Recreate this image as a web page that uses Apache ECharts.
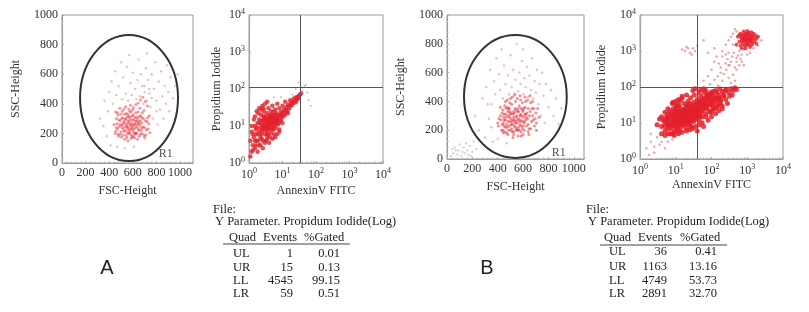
<!DOCTYPE html>
<html>
<head>
<meta charset="utf-8">
<script src="https://cdn.jsdelivr.net/npm/echarts@6/dist/echarts.min.js"></script>
<style>
  html, body { margin: 0; padding: 0; background: #fff; }
  #chart { width: 809px; height: 312px; }
</style>
</head>
<body>
<div id="chart"></div>
<script>
// ---- data ----
// gate R1: [centerX, centerY, radiusX, radiusY] in data units
const gateA = [[568, 439, 415, 426]]
const gateB = [[539, 434, 405, 427]]
const r1A = [[880, 60]]
const r1B = [[880, 45]]

// quadrant markers [x, y]
const quadA = [35, 110]
const quadB = [39, 100]

const fscA_core = [[450,200],[470,230],[480,180],[490,260],[500,210],[505,300],[510,240],[520,190],[525,280],[530,330],[540,220],[545,260],[550,170],[555,310],[560,240],[565,200],[570,280],[575,350],[580,230],[585,190],[590,270],[595,320],[600,250],[605,210],[610,290],[615,170],[620,240],[625,340],[630,260],[635,200],[640,300],[645,230],[650,280],[655,180],[660,250],[665,320],[670,220],[675,270],[680,200],[690,300],[700,240],[710,190],[720,280],[730,230],[740,320],[440,260],[460,300],[470,340],[490,370],[510,350],[530,160],[540,380],[560,150],[580,390],[600,360],[620,200],[640,160],[660,370],[680,340],[700,170],[520,230],[540,300],[560,270],[580,310],[600,180],[610,230],[630,310],[650,220],[570,220],[590,240],[610,260],[550,250],[530,270],[595,290],[625,280],[575,260],[560,330],[500,330],[480,290],[460,240],
  [455,215],[465,265],[475,195],[485,245],[495,285],[505,175],[515,265],[525,215],[535,295],[545,185],[555,235],[565,315],[575,205],[585,255],[595,175],[605,325],[615,265],[625,205],[635,245],[645,345],[655,265],[665,195],[675,305],[685,245],[695,185],[705,285],[715,225],[725,305],[735,265],[745,205],[505,255],[515,305],[535,245],[555,285],[575,295],[595,225],[615,305],[635,285],[655,315],[675,235],[545,335],[565,365],[585,345],[605,375],[625,395],[645,405],[665,425],[685,445],[705,415],[725,385],[495,195],[475,325],[555,205],[615,195],[695,355],[455,345],[585,165],[645,265],[525,365],[665,285]]
const fscA_sparse = [[320,300],[350,250],[360,420],[380,180],[390,350],[400,480],[410,120],[420,550],[430,400],[450,620],[460,460],[470,110],[480,520],[500,680],[510,430],[520,580],[530,100],[540,470],[550,650],[560,420],[570,730],[580,540],[590,460],[600,610],[610,110],[620,500],[630,430],[640,560],[650,700],[660,450],[670,600],[680,520],[690,400],[700,480],[710,640],[720,420],[730,560],[740,470],[750,380],[760,600],[770,300],[780,500],[790,680],[800,420],[810,260],[820,550],[830,360],[840,620],[850,450],[860,300],[870,520],[880,400],[890,660],[900,480],[910,350],[920,580],[940,440],[960,520],[980,600],[720,740],[760,440],[800,350],[700,520],[740,500]]

const annA_core = [[1.2,2],[1.3,3],[1.4,5],[1.5,2.5],[1.6,8],[1.7,4],[1.8,12],[1.9,6],[2,3],[2,15],[2.1,9],[2.2,5],[2.3,20],[2.4,11],[2.5,7],[2.6,4],[2.7,14],[2.8,25],[2.9,9],[3,6],[3,18],[3.1,12],[3.2,4],[3.3,8],[3.4,22],[3.5,15],[3.6,10],[3.7,6],[3.8,30],[3.9,13],[4,9],[4,19],[4.2,5],[4.4,11],[4.5,25],[4.6,16],[4.8,8],[5,13],[5,35],[5.2,20],[5.4,10],[5.6,6],[5.8,17],[6,28],[6,12],[6.3,9],[6.6,22],[7,15],[7,40],[7.3,11],[7.6,19],[8,30],[8,8],[8.5,14],[9,24],[9.5,18],[10,35],[10,12],[11,28],[12,20],[12,45],[13,33],[14,25],[15,38],[16,30],[17,50],[18,40],[20,45],[22,55],[24,48],[26,60],[28,52],[30,65],[33,70],[36,75],[1.1,1.5],[1.3,6],[1.5,10],[1.8,2],[2.2,3],[2.6,2.5],[3,3.5],[3.5,4.5],[4,3.5],[5,4.5],[6,5],[7,6],[8,7],[1.4,15],[1.7,25],[2,30],[2.5,35],[3,40],[3.5,45],[1.2,10],[2.8,11],[3.2,9.5],[3.6,13],[4.1,14],[2.4,8],[2.9,16],[3.4,7],[4.3,17],[4.7,12],[5.3,15],[3.8,10.5],[3.1,14.5],[2.7,10],[4.9,18],[5.5,24],[6.2,16],[6.8,14],
  [1.5,4],[1.6,6],[1.7,9],[1.9,4],[2,7],[2.1,12],[2.3,6],[2.4,14],[2.6,9],[2.7,18],[3,8],[3.2,14],[3.4,10],[3.7,17],[3.9,8],[4.2,12],[4.4,20],[4.7,9],[5,16],[5.4,13],[5.8,11],[6.2,20],[6.6,13],[7.2,17],[7.8,12],[8.4,20],[9,15],[9.8,22],[10.5,18],[11.5,24],[13,28],[14.5,22],[16,34],[19,36],[21,42],[25,44],[27,58],[31,58],[1.3,2.2],[1.6,3],[2.4,4.5],[3.5,5.5],[4.5,6.5],[5.5,8],[1.5,18],[1.9,22],[2.3,28],[2.7,30],[1.1,4],[1.2,7]]
const annA_sparse = [[25,100],[40,90],[45,120],[60,50],[50,130],[30,150],[70,35],[20,70],[55,80],[38,110],[5.5,60],[9,60]]

const fscB_core = [[400,250],[420,300],[430,200],[440,340],[450,270],[460,220],[465,310],[470,180],[475,360],[480,260],[485,300],[490,230],[495,330],[500,200],[505,280],[510,380],[515,240],[520,310],[525,190],[530,270],[535,350],[540,220],[545,290],[550,250],[555,330],[560,200],[565,280],[570,370],[575,240],[580,310],[585,190],[590,260],[595,340],[600,230],[605,290],[610,200],[615,360],[620,270],[630,320],[640,240],[650,300],[660,210],[670,350],[680,270],[690,230],[700,320],[420,360],[440,200],[460,400],[480,170],[500,420],[520,150],[540,400],[560,160],[580,410],[600,170],[620,400],[640,190],[660,390],[450,310],[470,240],[490,290],[510,260],[530,230],[550,300],[570,260],[590,300],[610,250],[530,320],[550,210],[570,200],[490,350],[510,210],[560,350],[520,270],[540,260],[500,310],[580,270],[600,330],[460,270],[480,330],[620,310],[640,350],[450,230],[410,280],
  [405,230],[425,270],[435,320],[445,250],[455,190],[465,290],[475,220],[485,350],[495,260],[505,320],[515,190],[525,290],[535,250],[545,340],[555,270],[565,220],[575,300],[585,350],[595,210],[605,260],[615,310],[625,230],[635,280],[645,210],[655,330],[665,260],[675,300],[685,350],[695,280],[705,250],[445,290],[465,350],[485,200],[505,240],[525,330],[545,200],[565,330],[585,230],[605,350],[625,290],[455,370],[475,410],[495,390],[515,430],[535,450],[555,420],[575,440],[595,390],[615,430],[635,410],[655,440],[675,400],[435,240],[445,180],[525,170],[585,160],[645,170],[705,200],[715,350],[725,290]]
const fscB_sparse = [[220,300],[250,200],[280,420],[300,150],[310,500],[330,280],[340,620],[350,380],[360,120],[370,540],[380,450],[390,700],[400,140],[410,590],[420,480],[430,760],[440,420],[450,650],[460,520],[470,110],[480,580],[490,450],[500,720],[510,500],[520,620],[530,440],[540,550],[550,800],[560,470],[570,600],[580,520],[590,680],[600,450],[610,560],[620,500],[630,640],[640,430],[650,580],[660,480],[670,700],[680,420],[690,540],[700,460],[710,620],[720,380],[730,520],[740,300],[750,600],[760,440],[770,250],[780,520],[800,360],[820,480],[840,300],[860,420],[880,240],[900,350],[350,220],[320,380],[600,760]]
const fscB_debris = [[30,20],[50,40],[60,80],[80,30],[90,60],[100,100],[110,20],[120,50],[130,80],[140,40],[150,110],[160,60],[170,30],[180,90],[200,50],[210,120],[230,70],[70,60],[40,70],[190,20]]

const annB_core = [[4,8],[4.5,12],[5,6],[5,10],[5.5,15],[6,7],[6,11],[6.5,9],[7,14],[7,5],[7.5,18],[8,8],[8,11],[8.5,13],[9,6],[9,20],[9.5,10],[10,8],[10,14],[10,25],[11,11],[11,7],[12,16],[12,9],[12.5,30],[13,12],[13,6],[14,19],[14,10],[15,14],[15,8],[16,23],[16,12],[17,35],[17,9],[18,16],[18,11],[19,28],[20,13],[20,7],[21,20],[22,15],[22,40],[23,10],[24,25],[25,12],[25,18],[26,50],[27,8],[28,22],[29,14],[30,30],[30,17],[32,11],[33,60],[34,25],[35,20],[36,13],[38,35],[40,16],[40,45],[42,22],[44,28],[45,12],[48,38],[50,20],[50,55],[52,30],[55,15],[58,42],[60,25],[62,70],[65,33],[68,18],[70,48],[72,28],[75,60],[80,36],[85,22],[90,50],[95,40],[100,65],[105,30],[110,45],[120,55],[130,38],[140,70],[150,50],[160,60],[180,45],[200,75],[220,55],[240,80],[3,9],[3.5,13],[6,18],[7,22],[8.5,25],[11,32],[13,40],[15,48],[9,4.5],[12,5],[15,5.5],[20,6],[25,6.5],[30,7],[35,8],[45,9],[55,10],[18,20],[24,14],[28,16],[14,15],[19,17],[36,26],[46,18],[60,32],[26,28],[32,38],[12,22],[9,15],[16,17],[21,11],[11,18],[13,15],[6,13],
  [8,9],[9,12],[10,10],[11,15],[12,12],[13,9],[14,13],[15,11],[16,15],[17,13],[18,9],[19,14],[20,10],[21,16],[22,12],[23,18],[24,9],[25,22],[26,15],[27,11],[28,19],[29,24],[30,13],[32,22],[34,17],[36,20],[38,15],[40,25],[42,18],[44,35],[46,24],[48,15],[50,28],[55,22],[60,40],[65,25],[70,35],[75,28],[80,45],[90,32],[100,42],[110,35],[120,48],[140,45],[160,50],[6,9],[7,10],[7,7],[9,9],[10,18],[11,22],[13,26],[15,20],[17,24],[19,22],[21,30],[23,32],[25,35],[8,16],[10,30],[5,8],[5,12],[6,15],
  [150,30],[180,40],[200,25],[220,60],[250,45],[280,35],[300,70],[320,55],[350,90],[380,60],[400,80],[450,95],[500,85],[130,80],[170,90],[260,85],[120,25],[100,20],[90,60],[110,75],[70,80],[60,90],[50,85],[45,70],[35,90],[30,80],[20,60],[15,55],[12,45],[10,40],[8,35],[6,25],[5,20],[4,15],[4,5],[5,4.5],[6,5],[8,5],[10,5.5],[12,7],[40,6],[60,8],[80,12],[100,15],[130,18],[160,22],[200,30],[8.4,38],[25,17],[20,18],[30,25],[35,30],[45,40],[55,45],[65,50],[75,55],[85,62],[95,70],[140,28],[170,35],[110,24],[90,20],[70,15]]
const annB_cluster = [[500,1500],[550,2500],[600,1800],[650,3000],[700,1200],[700,2200],[750,1600],[750,2800],[800,2000],[800,3500],[850,1400],[850,2400],[900,1800],[900,3000],[950,2200],[1000,1600],[1000,2600],[1050,2000],[1100,3200],[1100,1500],[1150,2400],[1200,1900],[1250,2800],[1300,2100],[1400,1700],[1400,2600],[1500,2300],[1600,1900],[1700,2700],[1800,2200],[650,1400],[900,1200],[1200,1300],[600,2800],[1000,3600],[1300,3300],[720,1900],[820,2700],[950,1500],[1100,2100],[780,2300],[880,2000],[1020,2900],[1150,1800],[680,2500],[1250,2300],[1350,1500],[1500,3000],[1800,1600],[2000,2500]]
const annB_sparse = [[150,110],[200,150],[250,95],[300,180],[180,250],[350,130],[260,300],[400,220],[320,400],[450,350],[280,600],[500,500],[380,700],[420,900],[550,750],[300,900],[600,1000],[650,600],[700,800],[250,450],[150,200],[350,500],[450,150],[500,300],[800,400],[120,160],[90,120],[180,350],[15,1100],[20,1300],[25,900],[30,1200],[35,1000],[40,1400],[18,1000],[28,800],[22,1200],[1.5,2],[2,3],[2.5,1.5],[3,4],[3.5,2.5],[4,3],[5,2],[2,5],[6,3],[8,3.5],[1.8,1.3],[2.5,2.2],
  [60,150],[80,200],[100,300],[120,500],[140,700],[200,1000],[250,1500],[300,2000],[350,2500],[400,3000],[450,4000],[500,3500],[120,1200],[80,900],[60,2000],[200,700],[300,400],[600,400],[700,500],[1000,800],[1200,900],[1500,1200],[2000,1400],[2500,2000],[400,1500],[250,800],[500,650],[800,1100],[160,450],[220,230]]

// quadrant statistics tables
const quads = ['UL', 'UR', 'LL', 'LR']
const eventsA = [1, 15, 4545, 59]
const gatedA = ['0.01', '0.13', '99.15', '0.51']
const eventsB = [36, 1163, 4749, 2891]
const gatedB = ['0.41', '13.16', '53.73', '32.70']

const serif = '"Liberation Serif", "DejaVu Serif", serif'
const RED = '#e3202a'

const chart = echarts.init(document.getElementById('chart'))

function linAxis(i, name, gap, isY, max) {
    return {
        type: 'value', gridIndex: i, min: 0, max: max, interval: 200,
        name: name, nameLocation: 'middle', nameGap: gap,
        nameTextStyle: { fontFamily: serif, fontSize: 12, color: '#333' },
        axisLine: { show: true, lineStyle: { color: '#999' } },
        axisTick: { show: true, inside: true, length: 2, lineStyle: { color: '#aaa' } },
        minorTick: { show: true, splitNumber: 5, length: 1.5, lineStyle: { color: '#bbb' } },
        axisLabel: { fontFamily: serif, fontSize: 12, color: '#333', margin: 4, showMaxLabel: isY, formatter: v => String(v) },
        splitLine: { show: false }
    }
}

function logAxis(i, name, gap) {
    return {
        type: 'log', logBase: 10, gridIndex: i, min: 1, max: 10000,
        name: name, nameLocation: 'middle', nameGap: gap,
        nameTextStyle: { fontFamily: serif, fontSize: 12, color: '#333' },
        axisLine: { show: true, lineStyle: { color: '#999' } },
        axisTick: { show: true, inside: true, length: 2, lineStyle: { color: '#aaa' } },
        minorTick: { show: true, splitNumber: 9, length: 1.5, lineStyle: { color: '#bbb' } },
        axisLabel: {
            fontFamily: serif, fontSize: 12, color: '#333', margin: 4,
            formatter: v => '10{s|' + Math.round(Math.log10(v)) + '}',
            rich: { s: { fontFamily: serif, fontSize: 8, color: '#333', padding: [0, 0, 7, 0] } }
        },
        splitLine: { show: false }
    }
}

function dots(data, xi, color, size, opacity, z) {
    return {
        type: 'scatter', xAxisIndex: xi, yAxisIndex: xi, data: data,
        symbolSize: size, itemStyle: { color: color, opacity: opacity }, z: z || 2,
        silent: true
    }
}

function gate(data, xi) {
    return {
        type: 'custom', xAxisIndex: xi, yAxisIndex: xi, data: data, z: 5, silent: true,
        renderItem: (params, api) => {
            const c = api.coord([api.value(0), api.value(1)])
            const s = api.size([api.value(2), api.value(3)])
            return {
                type: 'ellipse',
                shape: { cx: c[0], cy: c[1], rx: s[0], ry: s[1] },
                style: { fill: 'none', stroke: '#333', lineWidth: 2 }
            }
        }
    }
}

function r1(data, xi) {
    return {
        type: 'scatter', xAxisIndex: xi, yAxisIndex: xi, data: data, symbolSize: 0, z: 6,
        label: { show: true, formatter: 'R1', position: 'inside', fontFamily: serif, fontSize: 12, color: '#222' }
    }
}

function quadLines(q) {
    return {
        silent: true, symbol: 'none', animation: false,
        label: { show: false },
        lineStyle: { color: '#555', width: 1, type: 'solid' },
        data: [{ xAxis: q[0] }, { yAxis: q[1] }]
    }
}

// table graphics
function table(x0, y0, rowY, qx, evRight, gtRight, hdr, line, events, gated) {
    const t = (x, y, text, align) => ({
        type: 'text', x: x, y: y,
        style: { text: text, fontFamily: serif, fontSize: 12.5, fill: '#222', align: align || 'left', verticalAlign: 'middle' }
    })
    const out = [
        t(x0, y0, 'File:'),
        t(x0 + 2, y0 + 12, 'Y Parameter. Propidum Iodide(Log)'),
        t(hdr[0], y0 + 28, 'Quad'),
        t(hdr[1], y0 + 28, 'Events'),
        t(hdr[2], y0 + 28, '%Gated'),
        { type: 'line', shape: { x1: line[0], y1: line[2], x2: line[1], y2: line[2] }, style: { stroke: '#444', lineWidth: 1 } }
    ]
    quads.forEach((q, i) => {
        out.push(t(qx, rowY[i], q))
        out.push(t(evRight, rowY[i], String(events[i]), 'right'))
        out.push(t(gtRight, rowY[i], gated[i], 'right'))
    })
    return out
}

const option = {
    animation: false,
    backgroundColor: '#fff',
    grid: [
        { left: 62, top: 15, width: 131, height: 148, show: true, borderColor: '#999', borderWidth: 1 },
        { left: 249, top: 15, width: 134, height: 148, show: true, borderColor: '#999', borderWidth: 1 },
        { left: 447, top: 15, width: 137, height: 144, show: true, borderColor: '#999', borderWidth: 1 },
        { left: 640, top: 15, width: 143, height: 144, show: true, borderColor: '#999', borderWidth: 1 }
    ],
    xAxis: [
        linAxis(0, 'FSC-Height', 22, false, 1110),
        logAxis(1, 'AnnexinV FITC', 22),
        linAxis(2, 'FSC-Height', 22, false, 1080),
        logAxis(3, 'AnnexinV FITC', 20)
    ],
    yAxis: [
        linAxis(0, 'SSC-Height', 40, true, 1000),
        logAxis(1, 'Propidium Iodide', 26),
        linAxis(2, 'SSC-Height', 40, true, 1000),
        logAxis(3, 'Propidium Iodide', 32)
    ],
    series: [
        dots(fscA_sparse, 0, '#eaa6a9', 2.5, 0.7),
        dots(fscA_core, 0, RED, 3, 0.45),
        gate(gateA, 0),
        r1(r1A, 0),
        dots(annA_sparse, 1, '#c9a6a8', 2, 0.8),
        Object.assign(dots(annA_core, 1, RED, 4.5, 0.8), { markLine: quadLines(quadA) }),
        dots(fscB_debris, 2, '#cfcfcf', 2.5, 0.8),
        dots(fscB_sparse, 2, '#eaa9ac', 2.5, 0.75),
        dots(fscB_core, 2, RED, 3, 0.5),
        gate(gateB, 2),
        r1(r1B, 2),
        dots(annB_sparse, 3, '#dc6a70', 2.5, 0.6),
        dots(annB_cluster, 3, RED, 4, 0.8),
        Object.assign(dots(annB_core, 3, RED, 5, 0.85), { markLine: quadLines(quadB) })
    ],
    graphic: [
        ...table(213, 210, [254, 268, 281, 294], 233, 293, 340, [229, 263, 304], [223, 350, 244], eventsA, gatedA),
        ...table(586, 210, [252, 267, 281, 294], 609, 667, 717, [604, 638, 680], [600, 727, 245], eventsB, gatedB),
        { type: 'text', x: 107, y: 268, style: { text: 'A', fontFamily: '"Liberation Sans", Arial, sans-serif', fontSize: 20, fill: '#222', align: 'center', verticalAlign: 'middle' } },
        { type: 'text', x: 487, y: 268, style: { text: 'B', fontFamily: '"Liberation Sans", Arial, sans-serif', fontSize: 20, fill: '#222', align: 'center', verticalAlign: 'middle' } }
    ]
}

chart.setOption(option)
</script>
</body>
</html>
